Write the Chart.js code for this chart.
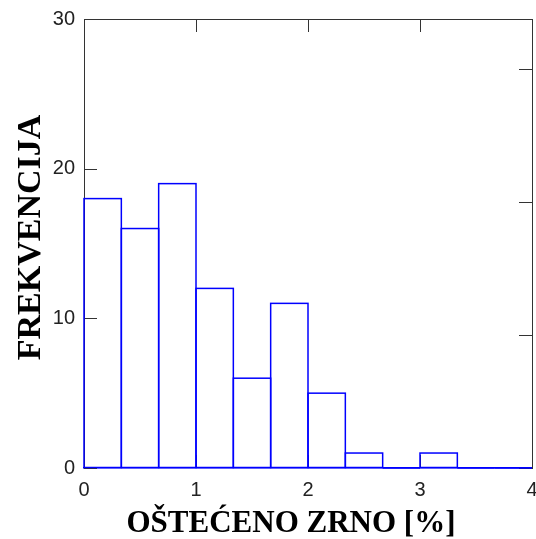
<!DOCTYPE html>
<html>
<head>
<meta charset="utf-8">
<script src="https://cdn.jsdelivr.net/npm/chart.js@4/dist/chart.umd.min.js"></script>
<style>
html,body{margin:0;padding:0;background:#fff;}
canvas{display:block;}
</style>
</head>
<body>
<canvas id="c" width="536" height="539"></canvas>
<script>
// ---- data ----
const binLabels = ['0–0.33','0.33–0.67','0.67–1','1–1.33','1.33–1.67','1.67–2','2–2.33','2.33–2.67','2.67–3','3–3.33','3.33–3.67','3.67–4'];
const frequencies = [18, 16, 19, 12, 6, 11, 5, 1, 0, 1, 0, 0];
const xRange = [0, 4];
const yRange = [0, 30];
const xTickStep = 1;
const yTickStep = 10;
const rightAxisRange = [0, 3.375];
const xTitle = 'OŠTEĆENO ZRNO [%]';
const yTitle = 'FREKVENCIJA';

const BLUE = '#0000ff';
const FRAME = '#333333';

function fixSize(w, h) {
  return s => {
    if (w !== null) s.width = w;
    if (h !== null) s.height = h;
    s.paddingLeft = 0; s.paddingRight = 0; s.paddingTop = 0; s.paddingBottom = 0;
  };
}

const inwardTicks = {
  id: 'inwardTicks',
  beforeDatasetsDraw(chart) {
    const ctx = chart.ctx, a = chart.chartArea, L = 13;
    ctx.save();
    ctx.strokeStyle = FRAME;
    ctx.lineWidth = 1;
    const s = chart.scales;
    s.y.ticks.forEach(t => { const p = Math.round(s.y.getPixelForValue(t.value)) + 0.5;
      ctx.beginPath(); ctx.moveTo(a.left, p); ctx.lineTo(a.left + L, p); ctx.stroke(); });
    s.yr.ticks.forEach(t => { const p = Math.round(s.yr.getPixelForValue(t.value)) + 0.5;
      ctx.beginPath(); ctx.moveTo(a.right, p); ctx.lineTo(a.right - L, p); ctx.stroke(); });
    s.xt.ticks.forEach(t => { const p = Math.round(s.xt.getPixelForValue(t.value)) + 0.5;
      ctx.beginPath(); ctx.moveTo(p, a.top); ctx.lineTo(p, a.top + L); ctx.stroke(); });
    s.xl.ticks.forEach(t => { const p = Math.round(s.xl.getPixelForValue(t.value)) + 0.5;
      ctx.beginPath(); ctx.moveTo(p, a.bottom); ctx.lineTo(p, a.bottom - L); ctx.stroke(); });
    ctx.restore();
  }
};

const barOutlines = {
  id: 'barOutlines',
  afterDatasetsDraw(chart) {
    const ctx = chart.ctx;
    const meta = chart.getDatasetMeta(0);
    ctx.save();
    ctx.strokeStyle = BLUE;
    ctx.lineWidth = 1.5;
    meta.data.forEach(el => {
      const p = el.getProps(['x','y','base','width'], true);
      const l = p.x - p.width / 2, r = p.x + p.width / 2;
      ctx.strokeRect(l, Math.min(p.y, p.base), r - l, Math.abs(p.base - p.y));
    });
    ctx.restore();
  }
};

const axisTitles = {
  id: 'axisTitles',
  afterDraw(chart) {
    const ctx = chart.ctx, a = chart.chartArea;
    ctx.save();
    ctx.fillStyle = '#000';
    ctx.textAlign = 'center';
    ctx.textBaseline = 'alphabetic';
    ctx.font = 'bold 31px "Liberation Serif"';
    ctx.fillText(xTitle, (a.left + a.right) / 2 - 17, 532);
    ctx.translate(40, (a.top + a.bottom) / 2 - 6);
    ctx.rotate(-Math.PI / 2);
    ctx.font = 'bold 34px "Liberation Serif"';
    ctx.fillText(yTitle, 0, 0);
    ctx.restore();
  }
};

new Chart(document.getElementById('c'), {
  type: 'bar',
  data: {
    labels: binLabels,
    datasets: [{
      data: frequencies,
      backgroundColor: 'rgba(0,0,0,0)',
      borderWidth: 0,
      barPercentage: 1,
      categoryPercentage: 1,
      xAxisID: 'x',
      yAxisID: 'y'
    }]
  },
  options: {
    responsive: false,
    animation: false,
    devicePixelRatio: 1,
    layout: { padding: 0 },
    plugins: { legend: { display: false }, tooltip: { enabled: false } },
    scales: {
      x: { type: 'category', display: false, offset: true },
      xl: {
        type: 'linear', position: 'bottom', min: xRange[0], max: xRange[1], offset: false,
        ticks: { stepSize: xTickStep, color: '#222', padding: 10,
                 font: { family: 'Liberation Sans', size: 20 } },
        grid: { drawOnChartArea: false, drawTicks: false, offset: false },
        border: { display: true, color: BLUE, width: 1.5 },
        afterFit: fixSize(null, 71)
      },
      xt: {
        type: 'linear', position: 'top', min: xRange[0], max: xRange[1], offset: false,
        ticks: { stepSize: xTickStep, display: false },
        grid: { drawOnChartArea: false, drawTicks: false, offset: false },
        border: { display: true, color: FRAME, width: 1 },
        afterFit: fixSize(null, 19)
      },
      y: {
        type: 'linear', position: 'left', min: yRange[0], max: yRange[1],
        ticks: { stepSize: yTickStep, color: '#222', padding: 9,
                 font: { family: 'Liberation Sans', size: 20 } },
        grid: { drawOnChartArea: false, drawTicks: false },
        border: { display: true, color: FRAME, width: 1 },
        afterFit: fixSize(84, null)
      },
      yr: {
        type: 'linear', position: 'right', min: rightAxisRange[0], max: rightAxisRange[1],
        ticks: { stepSize: 1, display: false },
        grid: { drawOnChartArea: false, drawTicks: false },
        border: { display: true, color: FRAME, width: 1 },
        afterFit: fixSize(4, null)
      }
    }
  },
  plugins: [inwardTicks, barOutlines, axisTitles]
});
</script>
</body>
</html>
